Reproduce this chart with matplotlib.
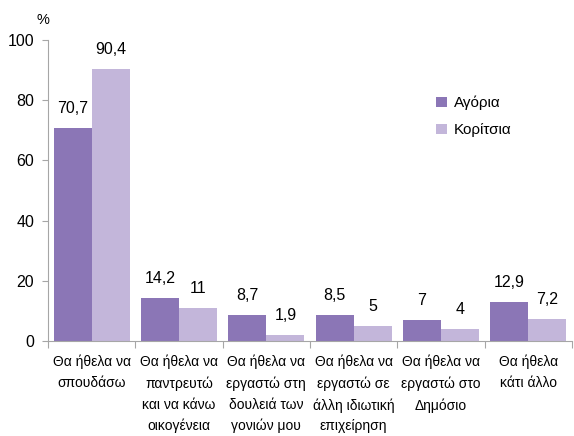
import numpy as np
import matplotlib
matplotlib.use('Agg')
import matplotlib.pyplot as plt

plt.rcParams['font.family'] = ['Liberation Sans', 'DejaVu Sans']

categories = ['Θα ήθελα να\nσπουδάσω',
              'Θα ήθελα να\nπαντρευτώ\nκαι να κάνω\nοικογένεια',
              'Θα ήθελα να\nεργαστώ στη\nδουλειά των\nγονιών μου',
              'Θα ήθελα να\nεργαστώ σε\nάλλη ιδιωτική\nεπιχείρηση',
              'Θα ήθελα να\nεργαστώ στο\nΔημόσιο',
              'Θα ήθελα\nκάτι άλλο']
boys = [70.7, 14.2, 8.7, 8.5, 7, 12.9]
girls = [90.4, 11, 1.9, 5, 4, 7.2]
boys_lbl = ['70,7', '14,2', '8,7', '8,5', '7', '12,9']
girls_lbl = ['90,4', '11', '1,9', '5', '4', '7,2']

c_boys = '#8b76b6'
c_girls = '#c3b6da'

fig = plt.figure(figsize=(5.74, 4.36), dpi=100)
ax = fig.add_axes([0.0836, 0.218, 0.913, 0.690])

x = np.arange(len(categories))
w = 0.435
b1 = ax.bar(x - w/2, boys, w, color=c_boys, label='Αγόρια')
b2 = ax.bar(x + w/2, girls, w, color=c_girls, label='Κορίτσια')

for xi, v, t in zip(x, boys, boys_lbl):
    ax.text(xi - w/2, v + 4, t, ha='center', va='bottom', fontsize=11.5)
for xi, v, t in zip(x, girls, girls_lbl):
    ax.text(xi + w/2, v + 4, t, ha='center', va='bottom', fontsize=11.5)

ax.set_xlim(-0.5, len(categories) - 0.5)
ax.set_ylim(0, 100)
ax.set_yticks([0, 20, 40, 60, 80, 100])
ax.tick_params(axis='y', labelsize=11.5, length=4, color='#a6a6a6', pad=6)

ax.set_xticks(np.arange(-0.5, len(categories), 1))
ax.set_xticklabels([])
ax.set_xticks(x, minor=True)
ax.set_xticklabels(categories, minor=True, fontsize=10, linespacing=1.62)
ax.tick_params(axis='x', which='major', length=5, color='#a6a6a6')
ax.tick_params(axis='x', which='minor', length=0, pad=10)

for s in ['top', 'right']:
    ax.spines[s].set_visible(False)
for s in ['left', 'bottom']:
    ax.spines[s].set_color('#a6a6a6')

fig.text(0.075, 0.955, '%', ha='center', va='center', fontsize=10.5)

ax.legend(loc='upper left', bbox_to_anchor=(0.715, 0.86), frameon=False,
          fontsize=11, handlelength=0.7, handleheight=0.7, handletextpad=0.45,
          labelspacing=0.85)

fig.savefig('out.png', dpi=100)
